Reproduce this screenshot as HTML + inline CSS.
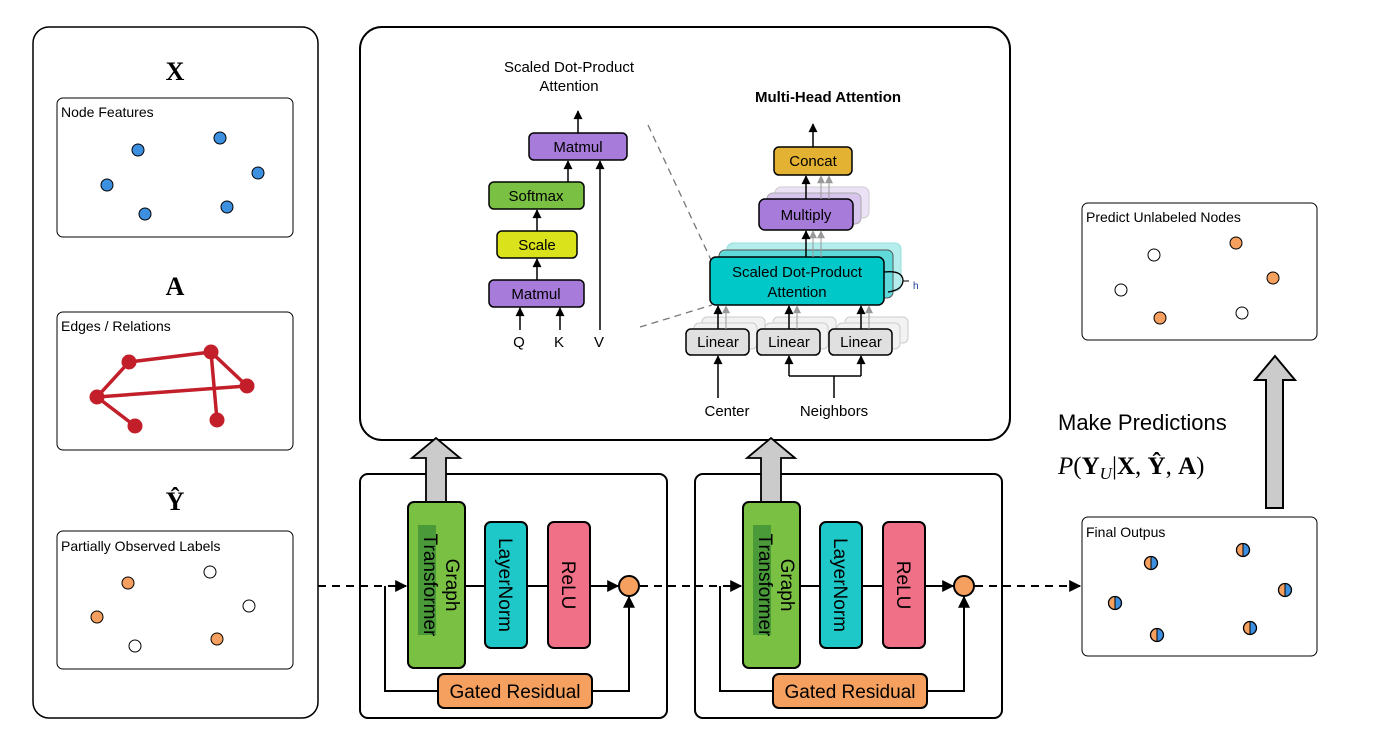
<!DOCTYPE html>
<html><head><meta charset="utf-8"><style>html,body{margin:0;padding:0;background:#fff}svg{display:block}text{font-family:"Liberation Sans",sans-serif}</style></head><body>
<svg width="1389" height="747" viewBox="0 0 1389 747" xmlns="http://www.w3.org/2000/svg">
<defs>
<marker id="ar" viewBox="0 0 10 10" refX="9" refY="5" markerWidth="11" markerHeight="9" markerUnits="userSpaceOnUse" orient="auto"><path d="M0,0 L10,5 L0,10 z" fill="#000"/></marker>
<marker id="ab" viewBox="0 0 10 10" refX="9" refY="5" markerWidth="15" markerHeight="12" markerUnits="userSpaceOnUse" orient="auto"><path d="M0,0 L10,5 L0,10 z" fill="#000"/></marker>
<marker id="ag" viewBox="0 0 10 10" refX="9" refY="5" markerWidth="9" markerHeight="8" markerUnits="userSpaceOnUse" orient="auto"><path d="M0,0 L10,5 L0,10 z" fill="#999"/></marker>
<g id="hd"><circle cx="0" cy="0" r="6.5" fill="#f5a05f"/><path d="M0,-6.5 A6.5,6.5 0 0 1 0,6.5 z" fill="#3d8fe0"/><circle cx="0" cy="0" r="6.5" fill="none" stroke="#000" stroke-width="1.3"/><line x1="0" y1="-6.5" x2="0" y2="6.5" stroke="#000"/></g>
</defs>
<!-- left panel -->
<rect x="33" y="27" width="285" height="691" rx="16" fill="#fff" stroke="#000" stroke-width="1.5"/>
<text x="175" y="80" font-weight="bold" font-size="26" text-anchor="middle" style="font-family:'Liberation Serif',serif">X</text>
<rect x="57" y="98" width="236" height="139" rx="6" fill="#fff" stroke="#000"/>
<text x="61" y="117" font-size="14">Node Features</text>
<g fill="#3d8fe0" stroke="#000" stroke-width="1">
<circle cx="138" cy="150" r="6"/><circle cx="220" cy="138" r="6"/><circle cx="107" cy="185" r="6"/><circle cx="258" cy="173" r="6"/><circle cx="145" cy="214" r="6"/><circle cx="227" cy="207" r="6"/></g>
<text x="175" y="295" font-weight="bold" font-size="26" text-anchor="middle" style="font-family:'Liberation Serif',serif">A</text>
<rect x="57" y="312" width="236" height="138" rx="6" fill="#fff" stroke="#000"/>
<text x="61" y="331" font-size="14">Edges / Relations</text>
<g stroke="#c21f2b" stroke-width="3.5"><line x1="97" y1="397" x2="129" y2="362"/><line x1="129" y1="362" x2="211" y2="352"/><line x1="211" y1="352" x2="247" y2="386"/><line x1="211" y1="352" x2="217" y2="420"/><line x1="97" y1="397" x2="247" y2="386"/><line x1="97" y1="397" x2="135" y2="426"/></g>
<g fill="#c21f2b"><circle cx="129" cy="362" r="7.5"/><circle cx="211" cy="352" r="7.5"/><circle cx="247" cy="386" r="7.5"/><circle cx="97" cy="397" r="7.5"/><circle cx="135" cy="426" r="7.5"/><circle cx="217" cy="420" r="7.5"/></g>
<text x="175" y="510" font-weight="bold" font-size="26" text-anchor="middle" style="font-family:'Liberation Serif',serif">Ŷ</text>
<rect x="57" y="531" width="236" height="138" rx="6" fill="#fff" stroke="#000"/>
<text x="61" y="551" font-size="14">Partially Observed Labels</text>
<g stroke="#000" stroke-width="1"><circle cx="128" cy="583" r="6" fill="#f5a05f"/><circle cx="97" cy="617" r="6" fill="#f5a05f"/><circle cx="217" cy="639" r="6" fill="#f5a05f"/><circle cx="210" cy="572" r="6" fill="#fff"/><circle cx="249" cy="606" r="6" fill="#fff"/><circle cx="135" cy="646" r="6" fill="#fff"/></g>

<!-- top attention panel -->
<rect x="360" y="27" width="650" height="413" rx="22" fill="#fff" stroke="#000" stroke-width="2"/>
<text x="569" y="72" font-size="15" text-anchor="middle">Scaled Dot-Product</text>
<text x="569" y="91" font-size="15" text-anchor="middle">Attention</text>
<g stroke="#000" stroke-width="1.5">
<rect x="529" y="133" width="98" height="27" rx="5" fill="#a67bd9"/>
<rect x="489" y="182" width="95" height="27" rx="5" fill="#7ac143"/>
<rect x="497" y="231" width="80" height="27" rx="5" fill="#d9e21a"/>
<rect x="489" y="280" width="95" height="27" rx="5" fill="#a67bd9"/>
</g>
<g font-size="15" text-anchor="middle"><text x="578" y="152">Matmul</text><text x="536" y="201">Softmax</text><text x="537" y="250">Scale</text><text x="536" y="299">Matmul</text>
<text x="519" y="347">Q</text><text x="559" y="347">K</text><text x="599" y="347">V</text></g>
<g stroke="#000" stroke-width="1.5" marker-end="url(#ar)">
<line x1="578" y1="133" x2="578" y2="111"/><line x1="568" y1="182" x2="568" y2="161"/><line x1="537" y1="231" x2="537" y2="210"/><line x1="537" y1="280" x2="537" y2="259"/>
<line x1="520" y1="330" x2="520" y2="308"/><line x1="560" y1="330" x2="560" y2="308"/><line x1="600" y1="330" x2="600" y2="161"/></g>
<g stroke="#777" stroke-width="1.3" stroke-dasharray="7,5"><line x1="648" y1="125" x2="712" y2="262"/><line x1="640" y1="327" x2="712" y2="305"/></g>
<text x="828" y="102" font-size="15" font-weight="bold" text-anchor="middle">Multi-Head Attention</text>
<rect x="727" y="243" width="174" height="48" rx="6" fill="#b5ecec" stroke="#9dd" />
<rect x="719" y="250" width="174" height="48" rx="6" fill="#5fd9d9" stroke="#555"/>
<path d="M884,272 Q902,270 903,280 Q903,290 888,292" fill="none" stroke="#000" stroke-width="1.3"/>
<line x1="903" y1="281" x2="909" y2="281" stroke="#000"/>
<text x="913" y="289" font-size="10" fill="#1a3a9a">h</text>
<rect x="775" y="187" width="94" height="31" rx="6" fill="#ece2f7" stroke="#ccc"/>
<rect x="767" y="193" width="94" height="31" rx="6" fill="#d7c5ee" stroke="#aaa"/>
<g fill="#f2f2f2" stroke="#ccc">
<rect x="702" y="317" width="63" height="26" rx="5"/><rect x="694" y="323" width="63" height="26" rx="5"/>
<rect x="773" y="317" width="63" height="26" rx="5"/><rect x="765" y="323" width="63" height="26" rx="5"/>
<rect x="845" y="317" width="63" height="26" rx="5"/><rect x="837" y="323" width="63" height="26" rx="5"/></g>
<g stroke="#000" stroke-width="1.5">
<rect x="774" y="147" width="78" height="28" rx="5" fill="#e3b232"/>
<rect x="759" y="199" width="94" height="31" rx="6" fill="#a67bd9"/>
<rect x="710" y="257" width="174" height="48" rx="6" fill="#00c8c8"/>
<rect x="686" y="329" width="63" height="26" rx="5" fill="#e0e0e0"/>
<rect x="757" y="329" width="63" height="26" rx="5" fill="#e0e0e0"/>
<rect x="829" y="329" width="63" height="26" rx="5" fill="#e0e0e0"/>
</g>
<g font-size="15" text-anchor="middle"><text x="813" y="166">Concat</text><text x="806" y="220">Multiply</text><text x="797" y="277">Scaled Dot-Product</text><text x="797" y="297">Attention</text>
<text x="718" y="347">Linear</text><text x="789" y="347">Linear</text><text x="861" y="347">Linear</text>
<text x="727" y="416">Center</text><text x="834" y="416">Neighbors</text></g>
<g stroke="#999" stroke-width="1" marker-end="url(#ag)"><line x1="821" y1="199" x2="821" y2="176"/><line x1="829" y1="199" x2="829" y2="176"/><line x1="813" y1="257" x2="813" y2="231"/><line x1="821" y1="257" x2="821" y2="231"/>
<line x1="726" y1="329" x2="726" y2="306"/><line x1="797" y1="329" x2="797" y2="306"/><line x1="869" y1="329" x2="869" y2="306"/></g>
<g stroke="#000" stroke-width="1.5" marker-end="url(#ar)">
<line x1="813" y1="147" x2="813" y2="124"/><line x1="806" y1="199" x2="806" y2="176"/><line x1="806" y1="257" x2="806" y2="231"/>
<line x1="718" y1="329" x2="718" y2="306"/><line x1="789" y1="329" x2="789" y2="306"/><line x1="861" y1="329" x2="861" y2="306"/>
<line x1="718" y1="398" x2="718" y2="356"/><line x1="789" y1="376" x2="789" y2="356"/><line x1="861" y1="376" x2="861" y2="356"/></g>
<polyline points="789,376 861,376" stroke="#000" stroke-width="1.5" fill="none"/><line x1="834" y1="376" x2="834" y2="398" stroke="#000" stroke-width="1.5"/>

<!-- bottom blocks -->
<g id="blk">
<rect x="360" y="474" width="307" height="244" rx="8" fill="#fff" stroke="#000" stroke-width="2"/>
<path d="M426,502 V458 H412 L436,438 L460,458 H446 V502" fill="#cbcbcb" stroke="#000" stroke-width="1.8"/>
<line x1="465" y1="586" x2="618" y2="586" stroke="#000" stroke-width="2" marker-end="url(#ab)"/>
<polyline points="385,586 385,691 438,691" fill="none" stroke="#000" stroke-width="2"/>
<line x1="360" y1="586" x2="406" y2="586" stroke="#000" stroke-width="2" stroke-dasharray="8,6" marker-end="url(#ab)"/>
<polyline points="592,691 629,691 629,597" fill="none" stroke="#000" stroke-width="2" marker-end="url(#ab)"/>
<rect x="408" y="502" width="57" height="166" rx="6" fill="#7ac143" stroke="#000" stroke-width="2"/>
<rect x="418" y="525" width="18" height="110" fill="#4a9a3a"/>
<rect x="485" y="522" width="42" height="126" rx="6" fill="#1ec8c8" stroke="#000" stroke-width="2"/>
<rect x="548" y="522" width="42" height="126" rx="6" fill="#f07087" stroke="#000" stroke-width="2"/>
<circle cx="629" cy="586" r="10" fill="#f5a05f" stroke="#000" stroke-width="2"/>
<rect x="438" y="674" width="154" height="34" rx="6" fill="#f5a05f" stroke="#000" stroke-width="2"/>
<text x="515" y="698" font-size="19" text-anchor="middle">Gated Residual</text>
<text font-size="19" text-anchor="middle" transform="translate(446,585) rotate(90)">Graph</text>
<text font-size="19" text-anchor="middle" transform="translate(424,585) rotate(90)">Transformer</text>
<text font-size="19" text-anchor="middle" transform="translate(499,585) rotate(90)">LayerNorm</text>
<text font-size="19" text-anchor="middle" transform="translate(562,585) rotate(90)">ReLU</text>
</g>
<use href="#blk" transform="translate(335,0)"/>
<line x1="318" y1="586" x2="360" y2="586" stroke="#000" stroke-width="2" stroke-dasharray="8,6"/>
<line x1="640" y1="586" x2="695" y2="586" stroke="#000" stroke-width="2" stroke-dasharray="8,6"/>
<line x1="975" y1="586" x2="1080" y2="586" stroke="#000" stroke-width="2" stroke-dasharray="8,6" marker-end="url(#ab)"/>

<!-- right -->
<rect x="1082" y="203" width="235" height="137" rx="6" fill="#fff" stroke="#000"/>
<text x="1086" y="222" font-size="14">Predict Unlabeled Nodes</text>
<g stroke="#000"><circle cx="1236" cy="243" r="6" fill="#f5a05f"/><circle cx="1273" cy="278" r="6" fill="#f5a05f"/><circle cx="1160" cy="318" r="6" fill="#f5a05f"/><circle cx="1154" cy="255" r="6" fill="#fff"/><circle cx="1121" cy="290" r="6" fill="#fff"/><circle cx="1242" cy="313" r="6" fill="#fff"/></g>
<path d="M1266,508 V380 H1255 L1275,356 L1295,380 H1283 V508 z" fill="#cbcbcb" stroke="#000" stroke-width="2"/>
<text x="1058" y="430" font-size="22">Make Predictions</text>
<text x="1058" y="474" font-size="25" style="font-family:'Liberation Serif',serif"><tspan font-style="italic">P</tspan>(<tspan font-weight="bold">Y</tspan><tspan font-style="italic" font-size="17" dy="5">U</tspan><tspan dy="-5">|</tspan><tspan font-weight="bold">X</tspan>, <tspan font-weight="bold">Ŷ</tspan>, <tspan font-weight="bold">A</tspan>)</text>
<rect x="1082" y="517" width="235" height="139" rx="6" fill="#fff" stroke="#000"/>
<text x="1086" y="537" font-size="14">Final Outpus</text>
<use href="#hd" transform="translate(1151,563)"/><use href="#hd" transform="translate(1243,550)"/><use href="#hd" transform="translate(1285,590)"/><use href="#hd" transform="translate(1115,603)"/><use href="#hd" transform="translate(1157,635)"/><use href="#hd" transform="translate(1250,628)"/>
</svg>
</body></html>
